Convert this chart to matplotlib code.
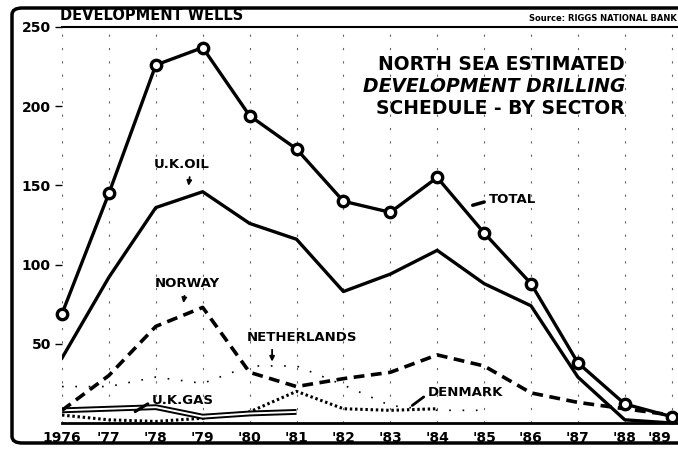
import matplotlib
matplotlib.use("Agg")
import matplotlib.pyplot as plt
from matplotlib.patches import FancyBboxPatch

# values (development wells per year)
years = list(range(1976, 1990))
year_labels = ["1976", "'77", "'78", "'79", "'80", "'81", "'82",
               "'83", "'84", "'85", "'86", "'87", "'88", "'89"]

total = [69, 145, 226, 237, 194, 173, 140, 133, 155, 120, 88, 38, 12, 4]
uk_oil = [41, 92, 136, 146, 126, 116, 83, 94, 109, 88, 74, 29, 2, 0]
norway = [8, 30, 61, 73, 32, 23, 28, 32, 43, 36, 19, 13, 9, 5]

netherlands_years = list(range(1976, 1986))
netherlands = [23, 23, 29, 25, 36, 36, 24, 11, 8, 8]

denmark_years = list(range(1976, 1985))
denmark = [5, 2, 1, 3, 7, 20, 9, 8, 9]

uk_gas_years = list(range(1976, 1982))
uk_gas = [8, 9, 10, 4, 6, 7]

y_ticks = [50, 100, 150, 200, 250]


fig = plt.figure(figsize=(6.78, 4.5), dpi=100)
ax = fig.add_axes([62 / 678, 1 - 423 / 450, 1 - 62 / 678, 396 / 450])

ax.set_xlim(1976, 1976 + (678 - 62) / 46.9)
ax.set_ylim(0, 250)

# faint broken vertical guides at each year
ax.set_xticks(years)
ax.set_xticklabels(year_labels, fontsize=10, fontweight="bold")
ax.get_xticklabels()[-1].set_horizontalalignment("right")
ax.grid(axis="x", linestyle=(0, (2, 10)), color="0.4", linewidth=0.8)
ax.set_yticks(y_ticks)
ax.set_yticklabels([str(v) for v in y_ticks], fontsize=10, fontweight="bold")
ax.tick_params(axis="x", length=0, pad=6)
ax.tick_params(axis="y", length=5, width=1, pad=3, direction="out")

for side in ["left", "right"]:
    ax.spines[side].set_visible(False)
ax.spines["bottom"].set_linewidth(2)
ax.spines["top"].set_linewidth(1.5)

# series
ax.plot(years, total, color="black", linewidth=2.4, marker="o",
        markersize=7.5, markerfacecolor="white", markeredgewidth=2.4,
        markeredgecolor="black", zorder=5, clip_on=False)
ax.plot(years, uk_oil, color="black", linewidth=2.4, zorder=4)
ax.plot(years, norway, color="black", linewidth=2.6,
        linestyle=(0, (3, 1.8)), zorder=4)
ax.plot(netherlands_years, netherlands, color="black", linewidth=1.2,
        linestyle=(0, (1, 7)), zorder=3)
ax.plot(denmark_years, denmark, color="black", linewidth=2.2,
        linestyle=(0, (0.8, 0.9)), zorder=3)
ax.plot(uk_gas_years, uk_gas, color="black", linewidth=4.2, zorder=3,
        solid_capstyle="butt")
ax.plot(uk_gas_years, uk_gas, color="white", linewidth=1.4, zorder=3,
        solid_capstyle="butt")

# series labels
label_font = dict(fontsize=9.5, fontweight="bold", color="black")
arrow = dict(arrowstyle="-|>", color="black", lw=1.3, mutation_scale=7)

ax.text(1978.56, 163, "U.K.OIL", ha="center", va="center", **label_font)
ax.annotate("", xy=(1978.69, 148), xytext=(1978.73, 157), arrowprops=arrow)

ax.text(1985.1, 141, "TOTAL", ha="left", va="center", **label_font)
ax.annotate("", xy=(1985.06, 140), xytext=(1984.7, 137),
            arrowprops=dict(arrowstyle="-", color="black", lw=2.5))

ax.text(1978.67, 88, "NORWAY", ha="center", va="center", **label_font)
ax.annotate("", xy=(1978.58, 74), xytext=(1978.62, 82), arrowprops=arrow)

ax.text(1981.12, 54, "NETHERLANDS", ha="center", va="center", **label_font)
ax.annotate("", xy=(1980.48, 37), xytext=(1980.48, 48), arrowprops=arrow)

ax.text(1977.92, 14.5, "U.K.GAS", ha="left", va="center", **label_font)
ax.annotate("", xy=(1977.88, 13), xytext=(1977.51, 6.3),
            arrowprops=dict(arrowstyle="-", color="black", lw=2.2))

ax.text(1983.8, 19, "DENMARK", ha="left", va="center", **label_font)
ax.annotate("", xy=(1983.76, 17.5), xytext=(1983.42, 10),
            arrowprops=dict(arrowstyle="-", color="black", lw=2.0))

# headings
fig.text(60 / 678, 1 - 23 / 450, "DEVELOPMENT WELLS", ha="left", va="bottom",
         fontsize=10.5, fontweight="semibold")
fig.text(0.998, 1 - 23 / 450, "Source: RIGGS NATIONAL BANK", ha="right",
         va="bottom", fontsize=6, fontweight="bold")

title_x = 625 / 678
fig.text(title_x, 1 - 65 / 450, "NORTH SEA ESTIMATED", ha="right",
         va="center", fontsize=13.5, fontweight="bold")
fig.text(title_x, 1 - 87 / 450, "DEVELOPMENT DRILLING", ha="right",
         va="center", fontsize=13.5, fontweight="bold", fontstyle="italic")
fig.text(title_x, 1 - 108 / 450, "SCHEDULE - BY SECTOR", ha="right",
         va="center", fontsize=13.5, fontweight="bold")

# rounded outer frame, cut off at the right like the clipping
frame = FancyBboxPatch((12 / 678, 7 / 450), 1.02, 1 - 15 / 450,
                       boxstyle="round,pad=0,rounding_size=0.015",
                       transform=fig.transFigure, fill=False,
                       linewidth=2.5, edgecolor="black")
fig.patches.append(frame)

fig.savefig("out.png", dpi=100)
